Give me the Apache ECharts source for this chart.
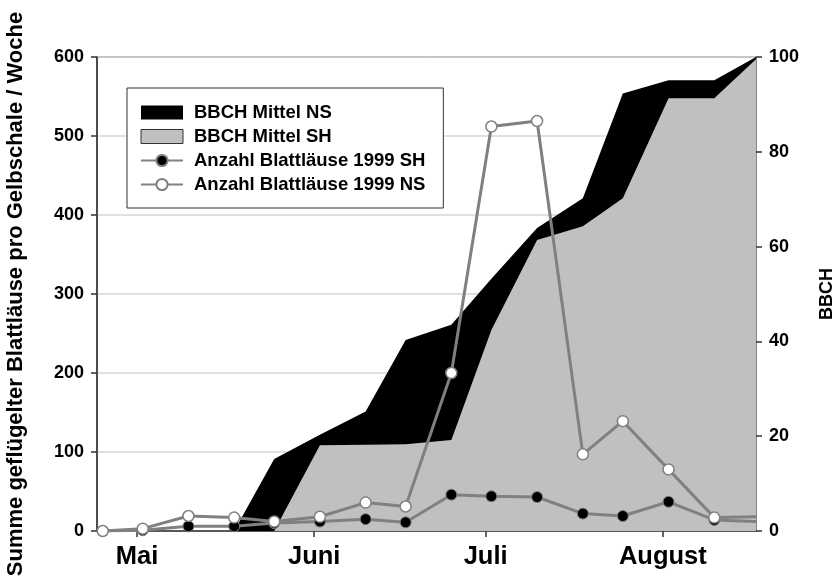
<!DOCTYPE html>
<html><head><meta charset="utf-8">
<script src="https://cdn.jsdelivr.net/npm/echarts@6/dist/echarts.min.js"></script>
<style>html,body{margin:0;padding:0;background:#fff}#c{width:837px;height:580px}</style>
</head><body><div id="c"></div>
<script>
// sampling dates, in days since 1 April 1999
const sampleDays = [24, 31, 39, 47, 54, 62, 70, 77, 85, 92, 100, 108, 115, 123, 131, 138.3];
// BBCH stage (right axis)
const bbchNS = [0, 0, 0, 0, 15.2, 20.3, 25.2, 40.3, 43.5, 53.2, 63.9, 70.2, 92.3, 95.1, 95.1, 100];
const bbchSH = [0, 0, 0, 0, 0, 18.1, 18.2, 18.3, 19.2, 42.4, 61.4, 64.3, 70.2, 91.3, 91.3, 99.5];
// aphids per yellow pan per week (left axis)
const aphidsSH = [0, 1, 6, 6, 10, 12, 15, 11, 46, 44, 43, 22, 19, 37, 14, 12];
const aphidsNS = [0, 3, 19, 17, 12, 18, 36, 31, 200, 512, 519, 97, 139, 78, 17, 18];
// month axis
const monthTicks = [30, 61, 91, 122];
const monthLabels = ['Mai', 'Juni', 'Juli', 'August'];

const FONT = 'Liberation Sans, Arial, Helvetica, sans-serif';
const pair = arr => sampleDays.map((d, i) => [d, arr[i]]);
const lastIdx = sampleDays.length - 1;
const sym = (v, p) => (p.dataIndex === lastIdx ? 'none' : 'circle');

const chart = echarts.init(document.getElementById('c'));
chart.setOption({
  animation: false,
  backgroundColor: '#fff',
  textStyle: { fontFamily: FONT },
  grid: { left: 97, right: 81, top: 57, bottom: 49, containLabel: false, outerBoundsMode: 'none', show: true, borderColor: '#333', borderWidth: 1 },
  legend: {
    orient: 'vertical', left: 127, top: 88,
    padding: [15, 18, 14, 13],
    backgroundColor: '#fff', borderColor: '#333', borderWidth: 1,
    itemWidth: 42, itemHeight: 14, itemGap: 5,
    textStyle: { fontFamily: FONT, fontSize: 18.5, fontWeight: 'bold', color: '#000', padding: [0, 0, 0, 6] },
    data: [
      { name: 'BBCH Mittel NS', icon: 'rect', itemStyle: { color: '#000' } },
      { name: 'BBCH Mittel SH', icon: 'rect', itemStyle: { color: '#c0c0c0', borderColor: '#333', borderWidth: 1 } },
      { name: 'Anzahl Blattläuse 1999 SH' },
      { name: 'Anzahl Blattläuse 1999 NS' }
    ]
  },
  xAxis: {
    type: 'value', min: 23, max: 138.3,
    axisLine: { lineStyle: { color: '#333', width: 1.5 } },
    axisTick: { customValues: monthTicks, length: 6, lineStyle: { color: '#333', width: 1.5 } },
    axisLabel: {
      customValues: monthTicks,
      formatter: v => monthLabels[monthTicks.indexOf(v)] || '',
      fontFamily: FONT, fontSize: 25.5, fontWeight: 'bold', color: '#000', margin: 13
    },
    splitLine: { show: false }
  },
  yAxis: [
    {
      type: 'value', min: 0, max: 600, interval: 100, position: 'left',
      name: 'Summe geflügelter Blattläuse pro Gelbschale / Woche',
      nameLocation: 'middle', nameRotate: 90, nameGap: 70,
      nameTextStyle: { fontFamily: FONT, fontSize: 22, fontWeight: 'bold', color: '#000' },
      axisLine: { show: true, lineStyle: { color: '#333', width: 1.5 } },
      axisTick: { show: true, length: 6, lineStyle: { color: '#333', width: 1.5 } },
      axisLabel: { fontFamily: FONT, fontSize: 18, fontWeight: 'bold', color: '#000', margin: 13 },
      splitLine: { show: true, lineStyle: { color: '#d6d6d6', width: 1.5 } }
    },
    {
      type: 'value', min: 0, max: 100, interval: 20, position: 'right',
      name: 'BBCH', nameLocation: 'middle', nameRotate: 90, nameGap: 62,
      nameTextStyle: { fontFamily: FONT, fontSize: 18, fontWeight: 'bold', color: '#000' },
      axisLine: { show: true, lineStyle: { color: '#808080', width: 1.5 } },
      axisTick: { show: true, length: 6, lineStyle: { color: '#333', width: 1.5 } },
      axisLabel: { fontFamily: FONT, fontSize: 18, fontWeight: 'bold', color: '#000', margin: 13 },
      splitLine: { show: false }
    }
  ],
  series: [
    {
      name: 'BBCH Mittel NS', type: 'line', yAxisIndex: 1, data: pair(bbchNS),
      showSymbol: false, symbol: 'none', lineStyle: { width: 0 },
      itemStyle: { color: '#000' }, areaStyle: { color: '#000', opacity: 1 }, z: 1
    },
    {
      name: 'BBCH Mittel SH', type: 'line', yAxisIndex: 1, data: pair(bbchSH),
      showSymbol: false, symbol: 'none', lineStyle: { width: 0 },
      itemStyle: { color: '#c0c0c0' }, areaStyle: { color: '#c0c0c0', opacity: 1 }, z: 2
    },
    {
      name: 'Anzahl Blattläuse 1999 SH', type: 'line', yAxisIndex: 0, data: pair(aphidsSH),
      symbol: sym, symbolSize: 11,
      lineStyle: { color: '#808080', width: 3 },
      itemStyle: { color: '#000', borderColor: '#808080', borderWidth: 1 }, z: 3
    },
    {
      name: 'Anzahl Blattläuse 1999 NS', type: 'line', yAxisIndex: 0, data: pair(aphidsNS),
      symbol: sym, symbolSize: 11,
      lineStyle: { color: '#808080', width: 3 },
      itemStyle: { color: '#fff', borderColor: '#808080', borderWidth: 1.5 }, z: 4
    }
  ]
});
</script></body></html>
